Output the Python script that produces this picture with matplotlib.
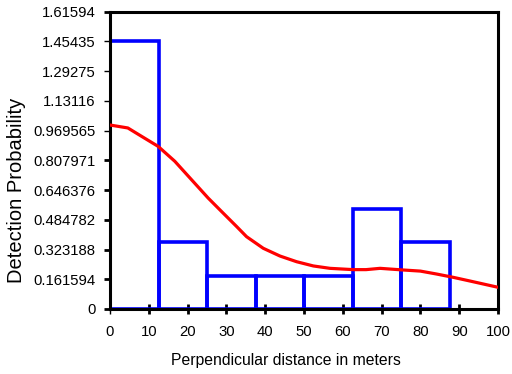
import matplotlib
matplotlib.use("Agg")
import matplotlib.pyplot as plt
import numpy as np

plt.rcParams['font.family'] = ['Liberation Sans', 'DejaVu Sans']

# Histogram bins (left edges), width and heights
bin_left = [0, 12.5, 25, 37.5, 50, 62.5, 75]
bin_width = 12.5
bin_height = [1.4545, 0.3636, 0.1818, 0.1818, 0.1818, 0.5454, 0.3636]

# Fitted detection curve
curve_x = [0, 4.6, 8.1, 12.4, 16.7, 21.0, 25.3, 28.7, 32.6, 35.2, 39.5, 43.8,
           48.1, 52.4, 56.7, 62.7, 66.0, 69.6, 75.6, 80.0, 84.2, 88.5, 92.8, 100]
curve_y = [1.0, 0.984, 0.939, 0.884, 0.803, 0.703, 0.603, 0.531, 0.449, 0.393, 0.33, 0.288,
           0.257, 0.234, 0.221, 0.214, 0.214, 0.221, 0.212, 0.206, 0.19, 0.172, 0.152, 0.118]

yticks = [0, 0.161594, 0.323188, 0.484782, 0.646376, 0.807971, 0.969565, 1.13116, 1.29275, 1.45435, 1.61594]
ytick_labels = ["0", "0.161594", "0.323188", "0.484782", "0.646376", "0.807971", "0.969565", "1.13116", "1.29275", "1.45435", "1.61594"]
xticks = [0, 10, 20, 30, 40, 50, 60, 70, 80, 90, 100]

fig = plt.figure(figsize=(5.12, 3.74), dpi=100)
ax = fig.add_axes([110/512, 1-309/374, (498-110)/512, (309-11.7)/374])

ax.bar(bin_left, bin_height, width=bin_width, align='edge', fill=False,
       edgecolor='#0000ff', linewidth=2.6, zorder=2)
ax.plot(curve_x, curve_y, color='#ff0000', linewidth=2.3, zorder=3,
        solid_joinstyle='round', solid_capstyle='round')

ax.set_xlim(0, 100)
ax.set_ylim(0, 1.61594)
ax.set_yticks(yticks)
ax.set_yticklabels(ytick_labels)
ax.set_xticks(xticks)

for s in ax.spines.values():
    s.set_linewidth(2.2)
    s.set_color('black')

ax.tick_params(axis='y', direction='out', length=4.5, width=2, labelsize=10.7, pad=6)
ax.tick_params(axis='x', direction='inout', length=6.5, width=2, labelsize=10.7, pad=8)

gray_y = [1.45435, 1.29275, 1.13116, 0.969565]
for t, v in zip(ax.yaxis.get_major_ticks(), yticks):
    if v in gray_y:
        t.tick1line.set_color('#bbbbbb')
        t.tick1line.set_markeredgewidth(1)
for t, v in zip(ax.xaxis.get_major_ticks(), xticks):
    if v == 0:
        t.tick1line.set_color('#bbbbbb')
        t.tick1line.set_markeredgewidth(1)

fig.text(286/512, 1-360/374, "Perpendicular distance in meters", ha='center', va='center', fontsize=11.3)
fig.text(17/512, 1-190/374, "Detection Probability", ha='center', va='center', rotation=90, fontsize=14.5)

fig.savefig("out.png", dpi=100, facecolor='white')
